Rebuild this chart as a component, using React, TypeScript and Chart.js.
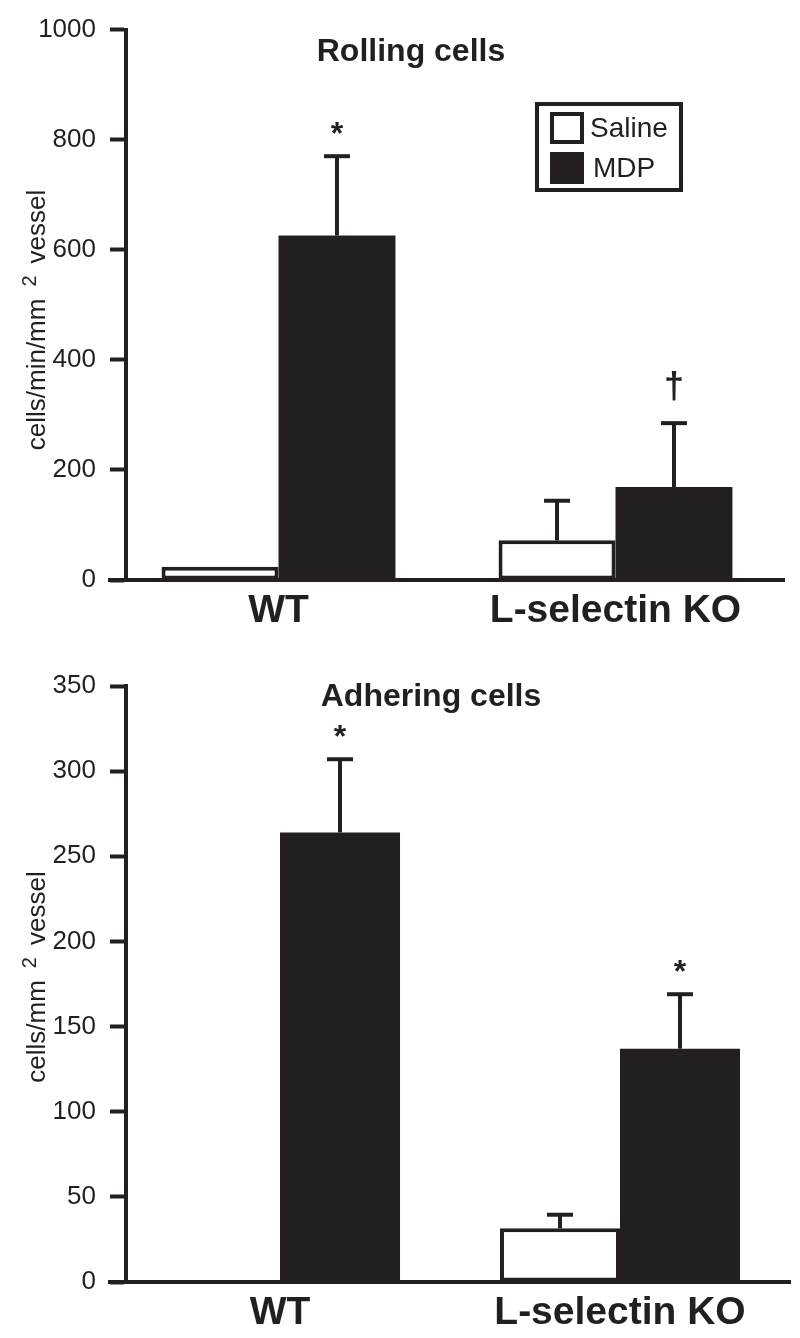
import React, { useEffect, useRef } from "react";
import { Chart, registerables } from "chart.js";

Chart.register(...registerables);

// ---------- data ----------
const categories = ["WT", "L-selectin KO"];
const seriesNames = ["Saline", "MDP"];

const rollingSaline = [24, 72];
const rollingSalineErr = [0, 72];
const rollingSalineMarks = ["", ""];
const rollingMDP = [626, 169];
const rollingMDPErr = [144, 116];
const rollingMDPMarks = ["*", "†"];
const rollingTickStep = 200;
const rollingMax = 1000;

const adheringSaline = [0, 31.5];
const adheringSalineErr = [0, 8];
const adheringSalineMarks = ["", ""];
const adheringMDP = [264, 137];
const adheringMDPErr = [43, 32];
const adheringMDPMarks = ["*", "*"];
const adheringTickStep = 50;
const adheringMax = 350;

// ---------- styles ----------
const INK = "#231f20";
const FONT = "'Liberation Sans', Arial, Helvetica, sans-serif";

const errorBarPlugin = {
  id: "errorBars",
  afterDatasetsDraw(chart: any) {
    const ctx = chart.ctx;
    const y = chart.scales.y;
    chart.data.datasets.forEach((ds: any, di: number) => {
      const meta = chart.getDatasetMeta(di);
      const errs = ds.errors || [];
      const marks = ds.marks || [];
      meta.data.forEach((bar: any, i: number) => {
        const v = ds.data[i];
        const e = errs[i] || 0;
        const top = y.getPixelForValue(v + e);
        ctx.save();
        ctx.strokeStyle = INK;
        ctx.lineWidth = 4;
        if (e > 0) {
          ctx.beginPath();
          ctx.moveTo(bar.x, bar.y);
          ctx.lineTo(bar.x, top);
          ctx.stroke();
          ctx.beginPath();
          ctx.moveTo(bar.x - 13, top);
          ctx.lineTo(bar.x + 13, top);
          ctx.stroke();
        }
        const m = marks[i];
        if (m) {
          ctx.fillStyle = INK;
          ctx.textAlign = "center";
          ctx.textBaseline = "alphabetic";
          if (m === "†") {
            ctx.font = `bold 36px ${FONT}`;
            ctx.fillText(m, bar.x, top - 25);
          } else {
            ctx.font = `bold 32px ${FONT}`;
            ctx.fillText(m, bar.x, top - 12);
          }
        }
        ctx.restore();
      });
    });
  },
};

// shift the y axis (line, ticks, labels) right of the chart-area edge
const axisShiftPlugin = {
  id: "axisShift",
  afterLayout(chart: any, _args: any, opts: any) {
    const s = chart.scales.y;
    const d = opts && opts.shift ? opts.shift : 0;
    s.left += d;
    s.right += d;
  },
};

const decorPlugin = {
  id: "decor",
  afterDraw(chart: any, _args: any, opts: any) {
    const ctx = chart.ctx;
    ctx.save();
    ctx.fillStyle = INK;
    if (opts.title) {
      ctx.font = `bold ${opts.title.size}px ${FONT}`;
      ctx.textAlign = "center";
      ctx.textBaseline = "middle";
      ctx.fillText(opts.title.text, opts.title.x, opts.title.y);
    }
    if (opts.yTitle) {
      const t = opts.yTitle;
      ctx.save();
      ctx.translate(t.x, t.cy);
      ctx.rotate(-Math.PI / 2);
      ctx.textBaseline = "middle";
      ctx.textAlign = "left";
      const widths = t.parts.map((p: any) => {
        ctx.font = `${p.sup ? t.supSize : t.size}px ${FONT}`;
        return ctx.measureText(p.text).width;
      });
      const total = widths.reduce((a: number, b: number) => a + b, 0) + t.gap * (t.parts.length - 1);
      let cx = -total / 2;
      t.parts.forEach((p: any, i: number) => {
        ctx.font = `${p.sup ? t.supSize : t.size}px ${FONT}`;
        ctx.fillText(p.text, cx, p.sup ? -t.supShift : 0);
        cx += widths[i] + t.gap;
      });
      ctx.restore();
    }
    if (opts.legend) {
      const L = opts.legend;
      ctx.lineWidth = 4;
      ctx.strokeStyle = INK;
      ctx.fillStyle = "#ffffff";
      ctx.fillRect(L.x, L.y, L.w, L.h);
      ctx.strokeRect(L.x + 2, L.y + 2, L.w - 4, L.h - 4);
      chart.data.datasets.forEach((ds: any, i: number) => {
        const sy = L.y + L.itemTop + i * L.itemStep;
        ctx.fillStyle = ds.backgroundColor;
        ctx.fillRect(L.x + L.boxLeft, sy, L.box, L.box - 2);
        ctx.lineWidth = 4;
        ctx.strokeStyle = INK;
        ctx.strokeRect(L.x + L.boxLeft + 2, sy + 2, L.box - 4, L.box - 6);
        ctx.fillStyle = INK;
        ctx.font = `${L.size}px ${FONT}`;
        ctx.textAlign = "left";
        ctx.textBaseline = "middle";
        ctx.fillText(ds.label, L.x + L.boxLeft + L.box + 6 + (i === 1 ? 3 : 0), sy + L.box / 2);
      });
    }
    ctx.restore();
  },
};

function makeConfig(p: any) {
  return {
    type: "bar",
    data: {
      labels: categories,
      datasets: [
        {
          label: seriesNames[0],
          data: p.saline,
          errors: p.salineErr,
          marks: p.salineMarks,
          backgroundColor: "#ffffff",
          borderColor: INK,
          borderWidth: 4,
          borderSkipped: false,
        },
        {
          label: seriesNames[1],
          data: p.mdp,
          errors: p.mdpErr,
          marks: p.mdpMarks,
          backgroundColor: INK,
          borderColor: INK,
          borderWidth: 0,
        },
      ],
    },
    options: {
      responsive: false,
      animation: false,
      layout: { padding: { top: p.padTop, right: p.padRight, left: 0, bottom: 0 } },
      datasets: { bar: { categoryPercentage: p.catPct, barPercentage: 1 } },
      scales: {
        x: {
          afterFit: (s: any) => {
            s.height = p.xHeight;
          },
          grid: { display: false, drawTicks: false },
          border: { display: true, width: 4, color: INK },
          ticks: { color: INK, font: { family: FONT, size: 39, weight: "bold" }, padding: 8 },
        },
        y: {
          min: 0,
          max: p.max,
          afterFit: (s: any) => {
            s.width = 110;
          },
          ticks: {
            stepSize: p.step,
            color: INK,
            font: { family: FONT, size: 26 },
            padding: 14,
            callback: (v: any) => String(v),
          },
          grid: { drawOnChartArea: false, drawTicks: true, tickLength: 16, tickWidth: 4, tickColor: INK },
          border: { display: true, width: 4, color: INK },
        },
      },
      plugins: {
        legend: { display: false },
        tooltip: { enabled: false },
        axisShift: { shift: 16 },
        decor: {
          title: p.title,
          yTitle: p.yTitle,
          legend: p.legend,
        },
      },
    },
    plugins: [axisShiftPlugin, errorBarPlugin, decorPlugin],
  };
}

function BarPanel({ cfg, width, height }: { cfg: any; width: number; height: number }) {
  const ref = useRef<HTMLCanvasElement>(null);
  useEffect(() => {
    if (!ref.current) return;
    const chart = new Chart(ref.current, makeConfig(cfg) as any);
    return () => chart.destroy();
  }, [cfg]);
  return <canvas ref={ref} width={width} height={height} style={{ display: "block", width, height }} />;
}

const rollingCfg = {
  saline: rollingSaline,
  salineErr: rollingSalineErr,
  salineMarks: rollingSalineMarks,
  mdp: rollingMDP,
  mdpErr: rollingMDPErr,
  mdpMarks: rollingMDPMarks,
  max: rollingMax,
  step: rollingTickStep,
  padTop: 23,
  padRight: 16,
  xHeight: 70,
  catPct: 0.694,
  title: { text: "Rolling cells", x: 411, y: 52, size: 32 },
  yTitle: {
    x: 38,
    cy: 320,
    size: 26,
    supSize: 20,
    supShift: 8,
    gap: 12,
    parts: [{ text: "cells/min/mm" }, { text: "2", sup: true }, { text: "vessel" }],
  },
  legend: { x: 535, y: 102, w: 148, h: 90, itemTop: 10, itemStep: 40, boxLeft: 15, box: 34, size: 28 },
};

const adheringCfg = {
  saline: adheringSaline,
  salineErr: adheringSalineErr,
  salineMarks: adheringSalineMarks,
  mdp: adheringMDP,
  mdpErr: adheringMDPErr,
  mdpMarks: adheringMDPMarks,
  max: adheringMax,
  step: adheringTickStep,
  padTop: 36,
  padRight: 10,
  xHeight: 56,
  catPct: 0.706,
  title: { text: "Adhering cells", x: 431, y: 47, size: 32 },
  yTitle: {
    x: 38,
    cy: 327,
    size: 26,
    supSize: 20,
    supShift: 8,
    gap: 12,
    parts: [{ text: "cells/mm" }, { text: "2", sup: true }, { text: "vessel" }],
  },
  legend: null,
};

export default function App() {
  return (
    <div style={{ position: "absolute", left: 0, top: 0, width: 800, height: 1338, background: "#ffffff" }}>
      <BarPanel cfg={rollingCfg} width={800} height={650} />
      <BarPanel cfg={adheringCfg} width={800} height={688} />
    </div>
  );
}
